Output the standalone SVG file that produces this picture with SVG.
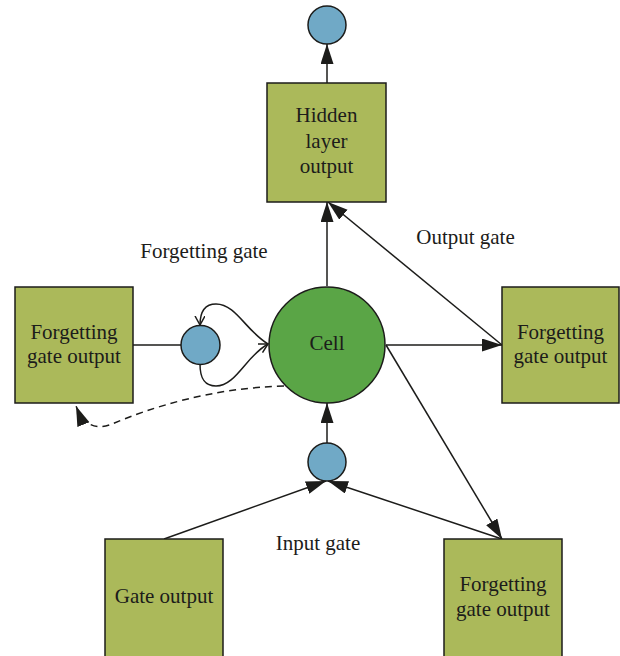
<svg xmlns="http://www.w3.org/2000/svg" width="620" height="656" viewBox="0 0 620 656">
<style>
.box{fill:#abb95a;stroke:#1c1c1a;stroke-width:1.5}
.cell{fill:#5aa546;stroke:#1c1c1a;stroke-width:1.5}
.dot{fill:#70a9c6;stroke:#1c1c1a;stroke-width:1.5}
.ln{fill:none;stroke:#1c1c1a;stroke-width:1.5}
.t{font-family:"Liberation Serif","Times New Roman",serif;font-size:21px;fill:#1c1c1a;text-anchor:middle}
</style>
<defs>
<marker id="arr" markerUnits="userSpaceOnUse" markerWidth="22" markerHeight="14" refX="20" refY="6.5" orient="auto"><path d="M0,0 L20,6.5 L0,13 z" fill="#1c1c1a"/></marker>
<marker id="open" markerUnits="userSpaceOnUse" markerWidth="12" markerHeight="12" refX="9" refY="5" orient="auto"><path d="M0,0 L9,5 L0,10" fill="none" stroke="#1c1c1a" stroke-width="1.5"/></marker>
</defs>
<g id="connectors">
<line class="ln" x1="327" y1="83" x2="327" y2="44" marker-end="url(#arr)"/>
<line class="ln" x1="327" y1="286" x2="327" y2="202" marker-end="url(#arr)"/>
<line class="ln" x1="502" y1="345" x2="328" y2="202" marker-end="url(#arr)"/>
<line class="ln" x1="386" y1="345" x2="502" y2="345" marker-end="url(#arr)"/>
<line class="ln" x1="386" y1="345" x2="502" y2="539" marker-end="url(#arr)"/>
<line class="ln" x1="327" y1="443" x2="327" y2="403" marker-end="url(#arr)"/>
<line class="ln" x1="164" y1="539" x2="326" y2="481" marker-end="url(#arr)"/>
<line class="ln" x1="502" y1="539" x2="328" y2="481" marker-end="url(#arr)"/>
<line class="ln" x1="133" y1="345" x2="181" y2="345"/>
<path class="ln" d="M268,344 C246,331 236,304 216,304 C203,304 200,314 200,325" marker-end="url(#open)"/>
<path class="ln" d="M200,364 C200,378 204,386 216,386 C236,386 246,356 268,344" marker-end="url(#open)"/>
<path class="ln" stroke-dasharray="7,5" d="M284,386 C210,388 150,408 112,424 C96,430 84,426 76,406" marker-end="url(#arr)"/>
</g>
<g id="out-dot"><circle class="dot" cx="327" cy="25" r="19"/></g>
<g id="hidden"><rect class="box" x="267" y="83" width="119" height="119"/>
<text class="t" x="326.5" y="122">Hidden</text><text class="t" x="326.5" y="148">layer</text><text class="t" x="326.5" y="173">output</text></g>
<g id="cell"><circle class="cell" cx="327" cy="345" r="58"/><text class="t" x="327" y="350">Cell</text></g>
<g id="forget-left"><rect class="box" x="15" y="287" width="118" height="116"/>
<text class="t" x="74" y="339">Forgetting</text><text class="t" x="74" y="363">gate output</text></g>
<g id="forget-dot"><circle class="dot" cx="200.5" cy="345" r="19.5"/></g>
<g id="forget-right"><rect class="box" x="502" y="287" width="117" height="116"/>
<text class="t" x="560.5" y="339">Forgetting</text><text class="t" x="560.5" y="363">gate output</text></g>
<g id="input-dot"><circle class="dot" cx="327" cy="462" r="19"/></g>
<g id="gate-output"><rect class="box" x="105" y="539" width="118" height="125"/>
<text class="t" x="164" y="603">Gate output</text></g>
<g id="forget-bottom"><rect class="box" x="444" y="539" width="118" height="125"/>
<text class="t" x="503" y="591">Forgetting</text><text class="t" x="503" y="616">gate output</text></g>
<g id="labels">
<text class="t" x="204" y="258">Forgetting gate</text>
<text class="t" x="465.5" y="244">Output gate</text>
<text class="t" x="318" y="550">Input gate</text>
</g>
</svg>
